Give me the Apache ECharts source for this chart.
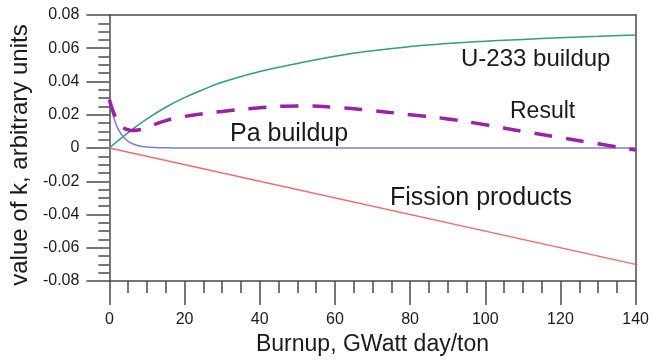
<!DOCTYPE html>
<html>
<head>
<meta charset="utf-8">
<script src="https://cdn.jsdelivr.net/npm/echarts@6/dist/echarts.min.js"></script>
<style>
  html, body { margin: 0; padding: 0; background: #fff; }
  #chart { width: 652px; height: 363px; }
</style>
</head>
<body>
<div id="chart"></div>
<script>
// Burnup axis positions (GWatt day/ton) and the reactivity contributions
const u233X = [0, 5, 10, 15, 20, 25, 30, 40, 50, 60, 70, 80, 90, 100, 110, 120, 130, 140];
const u233K = [0, 0.0093, 0.0175, 0.0245, 0.0303, 0.0352, 0.0395, 0.046, 0.0508, 0.0552, 0.0585, 0.061, 0.0628, 0.0642, 0.0653, 0.0663, 0.0672, 0.068];

const paX = [0, 1, 2, 3, 4, 5, 6, 8, 10, 12, 15, 20, 40, 60, 80, 100, 120, 140];
const paK = [0.029, 0.0195, 0.013, 0.0088, 0.006, 0.004, 0.0027, 0.0012, 0.0006, 0.0003, 0.0001, 0, 0, 0, 0, 0, 0, 0];

const resultX = [0, 1, 2, 3, 4, 5, 6, 8, 10, 15, 20, 30, 40, 50, 60, 70, 80, 90, 100, 110, 120, 130, 140];
const resultK = [0.029, 0.022, 0.017, 0.0135, 0.0118, 0.011, 0.0105, 0.011, 0.0125, 0.0165, 0.019, 0.022, 0.0242, 0.0253, 0.0245, 0.0225, 0.020, 0.0175, 0.014, 0.010, 0.0063, 0.0025, -0.0012];

const fissionX = [0, 140];
const fissionK = [0, -0.07];

const xTicks = { min: 0, max: 140, step: 20 };
const yTicks = { min: -0.08, max: 0.08, step: 0.02 };

const pairs = (xs, ys) => xs.map((x, i) => [x, ys[i]]);

const axisColor = '#4a4a4a';
const labelFont = '"Liberation Sans", Arial, Helvetica, sans-serif';

const chart = echarts.init(document.getElementById('chart'), null, { renderer: 'canvas' });

chart.setOption({
  animation: false,
  backgroundColor: '#ffffff',
  grid: { left: 107, right: 12, top: 15, bottom: 82 },
  xAxis: [
    {
      type: 'value',
      min: xTicks.min, max: xTicks.max, interval: xTicks.step,
      name: 'Burnup, GWatt day/ton',
      nameLocation: 'middle',
      nameGap: 52,
      nameTextStyle: { fontFamily: labelFont, fontSize: 23, color: '#1a1a1a' },
      axisLine: { show: true, onZero: false, lineStyle: { color: axisColor, width: 1.5 } },
      axisTick: { show: true, inside: false, length: 24, lineStyle: { color: axisColor, width: 1.5 } },
      minorTick: { show: true, splitNumber: 4, length: 12, lineStyle: { color: axisColor, width: 1.5 } },
      axisLabel: { margin: 31, fontFamily: labelFont, fontSize: 16, color: '#1a1a1a' },
      splitLine: { show: false }
    },
    {
      type: 'value', position: 'top',
      min: xTicks.min, max: xTicks.max,
      axisLine: { show: true, onZero: false, lineStyle: { color: axisColor, width: 1.5 } },
      axisTick: { show: false }, axisLabel: { show: false }, splitLine: { show: false }
    }
  ],
  yAxis: [
    {
      type: 'value',
      min: yTicks.min, max: yTicks.max, interval: yTicks.step,
      name: 'value of k, arbitrary units',
      nameLocation: 'middle',
      nameGap: 76,
      nameTextStyle: { fontFamily: labelFont, fontSize: 24, color: '#1a1a1a', padding: [0, 14, 0, 0] },
      axisLine: { show: true, onZero: false, lineStyle: { color: axisColor, width: 1.5 } },
      axisTick: { show: true, inside: false, length: 23, lineStyle: { color: axisColor, width: 1.5 } },
      minorTick: { show: true, splitNumber: 4, length: 11, lineStyle: { color: axisColor, width: 1.5 } },
      axisLabel: {
        margin: 30, fontFamily: labelFont, fontSize: 16, color: '#1a1a1a',
        formatter: v => (Math.abs(v) < 1e-9 ? '0' : v.toFixed(2))
      },
      splitLine: { show: false }
    },
    {
      type: 'value', position: 'right',
      min: yTicks.min, max: yTicks.max,
      axisLine: { show: true, onZero: false, lineStyle: { color: axisColor, width: 1.5 } },
      axisTick: { show: false }, axisLabel: { show: false }, splitLine: { show: false }
    }
  ],
  series: [
    {
      name: 'Fission products', type: 'line', data: pairs(fissionX, fissionK),
      showSymbol: false, lineStyle: { color: '#f46a6a', width: 1.5 }, z: 2
    },
    {
      name: 'U-233 buildup', type: 'line', data: pairs(u233X, u233K),
      smooth: 0.5,
      showSymbol: false, lineStyle: { color: '#30a07a', width: 1.5 }, z: 3
    },
    {
      name: 'Pa buildup', type: 'line', data: pairs(paX, paK),
      smooth: 0.3,
      showSymbol: false, lineStyle: { color: '#7c7cd8', width: 1.5 }, z: 4
    },
    {
      name: 'Result', type: 'line', data: pairs(resultX, resultK),
      smooth: 0.5,
      showSymbol: false, lineStyle: { color: '#9b22a6', width: 3.5, type: [18, 14] }, z: 5
    }
  ],
  graphic: [
    { type: 'text', left: 461, top: 47, style: { text: 'U-233 buildup', font: '24px "Liberation Sans", Arial, sans-serif', fill: '#1a1a1a' } },
    { type: 'text', left: 510, top: 100, style: { text: 'Result', font: '23px "Liberation Sans", Arial, sans-serif', fill: '#1a1a1a' } },
    { type: 'text', left: 230, top: 122, style: { text: 'Pa buildup', font: '25px "Liberation Sans", Arial, sans-serif', fill: '#1a1a1a' } },
    { type: 'text', left: 390, top: 186, style: { text: 'Fission products', font: '25px "Liberation Sans", Arial, sans-serif', fill: '#1a1a1a' } }
  ]
});
</script>
</body>
</html>
